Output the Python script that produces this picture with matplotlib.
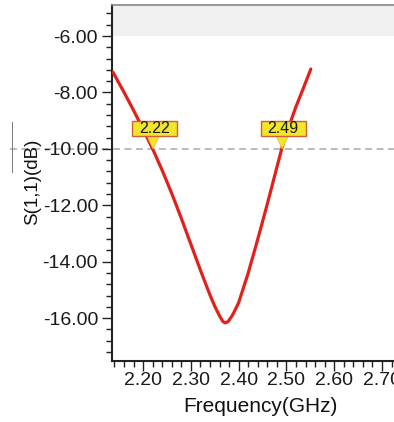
import matplotlib
matplotlib.use("Agg")
import matplotlib.pyplot as plt
import matplotlib.transforms as mtransforms
from matplotlib.patches import Polygon
from matplotlib.ticker import MultipleLocator, FormatStrFormatter
from matplotlib.lines import Line2D

plt.rcParams['font.family'] = ['Liberation Sans', 'DejaVu Sans']

# Data
freq_ghz = [2.137, 2.16, 2.18, 2.20, 2.22, 2.24, 2.26, 2.28, 2.30, 2.32,
            2.34, 2.35, 2.36, 2.367, 2.372, 2.378, 2.385, 2.39, 2.40, 2.42,
            2.44, 2.46, 2.48, 2.49, 2.50, 2.52, 2.54, 2.551]
s11_db = [-7.28, -7.99, -8.63, -9.30, -10.0, -10.76, -11.58, -12.46, -13.38,
          -14.3, -15.18, -15.58, -15.92, -16.12, -16.17, -16.12, -15.95, -15.8,
          -15.45, -14.4, -13.2, -11.95, -10.65, -10.0, -9.45, -8.5, -7.65, -7.17]
marker_freqs = [2.22, 2.49]
marker_labels = ["2.22", "2.49"]
ref_level = -10.0
yticks = [-6, -8, -10, -12, -14, -16]
xticks = [2.20, 2.30, 2.40, 2.50, 2.60, 2.70]

W, H = 394, 422
fig = plt.figure(figsize=(W / 100, H / 100), dpi=100)
ax = fig.add_axes([112 / W, 1 - 361 / H, 1 - 112 / W, (361 - 5) / H])

ax.set_xlim(2.135, 2.725)
ax.set_ylim(-17.52, -4.90)

# grey band at the top
ax.axhspan(-6.0, -4.90, color='#f0f0f0', zorder=0, lw=0)

# reference dashed line (extends left past the axis)
ax.plot([-0.36, 1.0], [ref_level, ref_level], transform=ax.get_yaxis_transform(),
        color='#a8a8a8', lw=1.1, ls=(0, (4.5, 3)), clip_on=False, zorder=1)

ax.plot(freq_ghz, s11_db, color='#e3211c', lw=2.3, solid_capstyle='round',
        solid_joinstyle='round', zorder=3)

# markers
for f, lab in zip(marker_freqs, marker_labels):
    tr = fig.dpi_scale_trans + mtransforms.ScaledTranslation(f, ref_level, ax.transData)
    box = Polygon([(-0.21, 0.13), (0.24, 0.13), (0.24, 0.28), (-0.21, 0.28)],
                  closed=True, transform=tr, facecolor='#f3e62a',
                  edgecolor='#d0603a', lw=1.0, zorder=5, clip_on=False)
    tri = Polygon([(-0.06, 0.135), (0.07, 0.135), (0.005, 0.0)], closed=True,
                  transform=tr, facecolor='#f3e62a', edgecolor='#e0c020',
                  lw=0.5, zorder=5, clip_on=False)
    ax.add_patch(tri)
    ax.add_patch(box)
    ax.text(0.015, 0.205, lab, transform=tr, ha='center', va='center',
            fontsize=11.5, color='#1a1a1a', zorder=6)

ax.set_yticks(yticks)
ax.yaxis.set_major_formatter(FormatStrFormatter('%.2f'))
ax.yaxis.set_minor_locator(MultipleLocator(0.4))
ax.set_xticks(xticks)
ax.xaxis.set_major_formatter(FormatStrFormatter('%.2f'))
ax.xaxis.set_minor_locator(MultipleLocator(0.02))

ax.tick_params(axis='both', which='major', direction='out', length=7, width=1.0,
               color='#222222', labelsize=14, labelcolor='#1a1a1a')
ax.tick_params(axis='y', which='major', pad=3)
ax.tick_params(axis='x', which='major', pad=1)
ax.tick_params(axis='both', which='minor', direction='out', length=4, width=1.0,
               color='#222222')

for s in ['left', 'bottom']:
    ax.spines[s].set_linewidth(1.5)
    ax.spines[s].set_color('#222222')
ax.spines['top'].set_color('#888888')
ax.spines['top'].set_linewidth(1.2)
ax.spines['right'].set_visible(False)

fig.text(260 / W, 1 - 407 / H, 'Frequency(GHz)', ha='center', va='center',
         fontsize=15, color='#111111')
fig.text(33 / W, 1 - 182 / H, 'S(1,1)(dB)', ha='center', va='center',
         rotation=90, fontsize=13.5, color='#111111')

# thin vertical stray line near the y label
fig.add_artist(Line2D([12 / W, 12 / W], [1 - 122 / H, 1 - 172 / H],
                      transform=fig.transFigure, color='#777777', lw=0.7))

fig.savefig('out.png', dpi=100)
